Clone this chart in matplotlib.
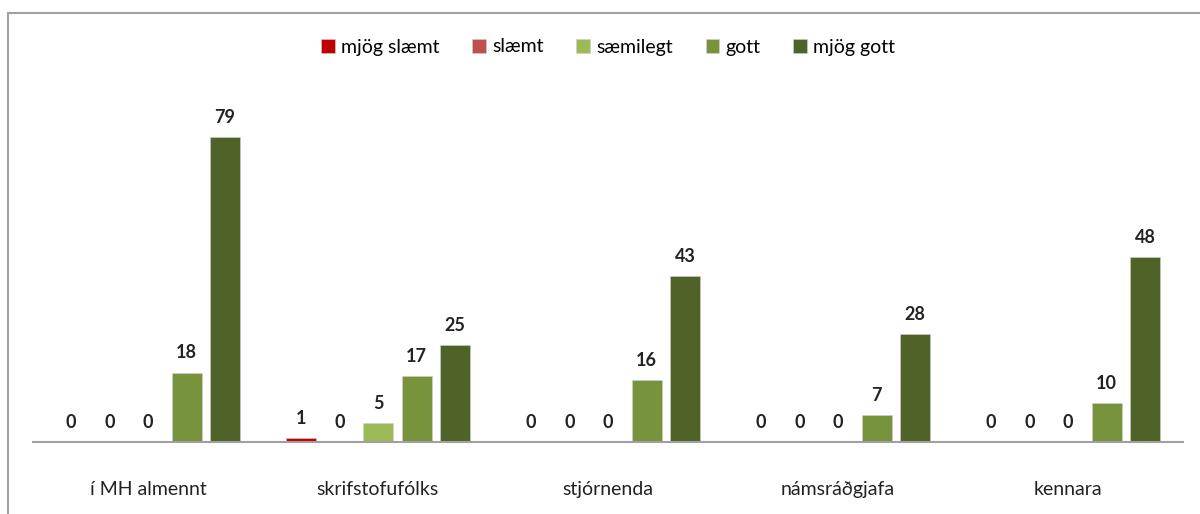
import matplotlib.pyplot as plt
import numpy as np

#%% Data
categories = ['í MH almennt', 'skrifstofufólks', 'stjórnenda', 'námsráðgjafa', 'kennara']
series_names = ['mjög slæmt', 'slæmt', 'sæmilegt', 'gott', 'mjög gott']
mjog_slaemt = [0, 1, 0, 0, 0]
slaemt = [0, 0, 0, 0, 0]
saemilegt = [0, 5, 0, 0, 0]
gott = [18, 17, 16, 7, 10]
mjog_gott = [79, 25, 43, 28, 48]
colors = ['#C00000', '#C0504D', '#9BBB59', '#77933C', '#4F6228']

#%% Figure
plt.rcParams['font.family'] = ['Lato', 'DejaVu Sans']
fig = plt.figure(figsize=(12, 5.14), dpi=100)
W, H = 1200, 514
ax = fig.add_axes([33 / W, (514 - 442) / H, 1150 / W, (442 - 94.5) / H])

x = np.arange(len(categories))
bw = 30 / 230
step = 38.5 / 230
data = [mjog_slaemt, slaemt, saemilegt, gott, mjog_gott]
for i, (name, vals, c) in enumerate(zip(series_names, data, colors)):
    pos = x + (i - 2) * step
    bars = ax.bar(pos, vals, width=bw, color=c, label=name,
                  edgecolor='#d0d0d0', linewidth=0.4)
    for p, v in zip(pos, vals):
        ax.annotate(str(v), (p, v), xytext=(0, 8), textcoords='offset points',
                    ha='center', va='bottom', fontsize=13, fontweight='bold',
                    color='#222222')

ax.set_xlim(-0.5, len(categories) - 0.5)
ax.set_ylim(0, 90)
ax.set_xticks(x)
ax.set_xticklabels(categories, fontsize=14, color='#222222')
ax.tick_params(axis='x', length=0, pad=28)
ax.set_yticks([])
for s in ['top', 'right', 'left']:
    ax.spines[s].set_visible(False)
ax.spines['bottom'].set_color('#a0a0a0')
ax.spines['bottom'].set_linewidth(1.5)

fig.legend(loc='center', bbox_to_anchor=(608 / W, 1 - 47 / H), ncol=5,
           frameon=False, fontsize=14, handlelength=0.7, handleheight=0.7,
           handletextpad=0.3, columnspacing=1.7)

# chart border (left and top visible)
fig.add_artist(plt.Line2D([8 / W, 8 / W], [0, 1 - 13 / H], color='#a0a0a0', lw=1.5))
fig.add_artist(plt.Line2D([8 / W, 1], [1 - 13 / H, 1 - 13 / H], color='#a0a0a0', lw=1.5))

fig.savefig('out.png', dpi=100)
